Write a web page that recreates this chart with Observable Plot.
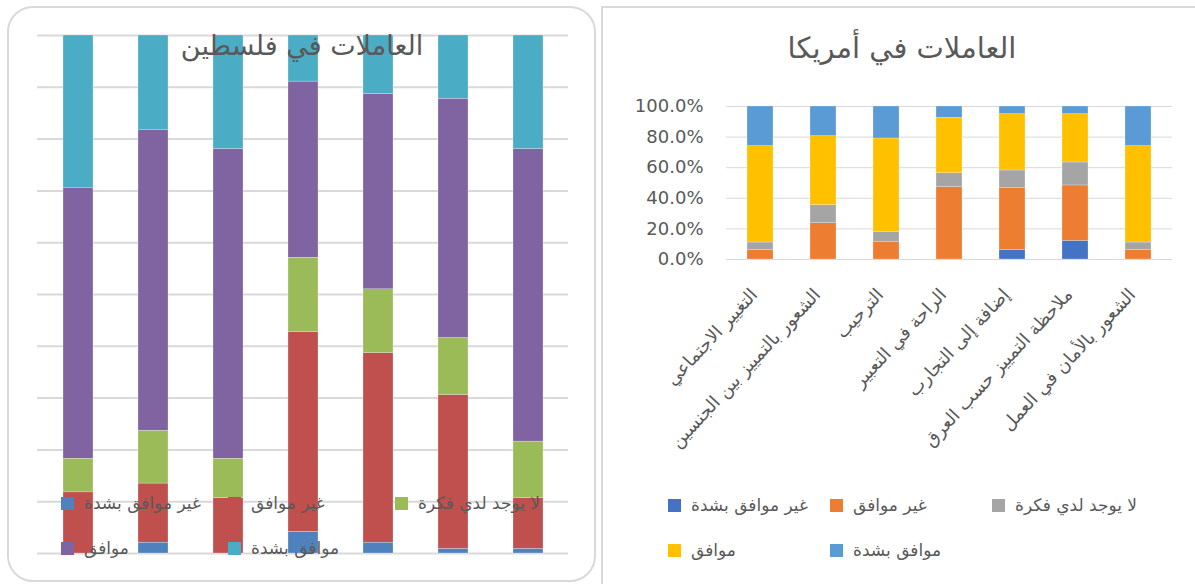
<!DOCTYPE html>
<html><head><meta charset="utf-8">
<script src="https://cdn.jsdelivr.net/npm/d3@7"></script>
<script src="https://cdn.jsdelivr.net/npm/@observablehq/plot@0.6"></script>
<style>
body{margin:0;background:#fff;}
#root{position:relative;width:1195px;height:584px;overflow:hidden;font-family:"DejaVu Sans",sans-serif;color:#595959;}
.box{position:absolute;box-sizing:border-box;}
#leftBox{left:7px;top:6px;width:589px;height:576px;border:2px solid #d9d9d9;border-radius:26px;}
#rightBox{left:601px;top:6px;width:620px;height:600px;border:2px solid #d9d9d9;}
.chart{position:absolute;top:0;}
.title{position:absolute;white-space:nowrap;transform:translateX(-50%);line-height:1;}
.leg{position:absolute;display:flex;align-items:center;white-space:nowrap;font-size:17px;line-height:1;}
.sw{width:13px;height:13px;margin-right:10px;flex:none;}
</style></head>
<body>
<div id="root">
  <div class="box" id="leftBox"></div>
  <div class="box" id="rightBox"></div>
</div>
<script>
// ---- shared categories and series ----
const categories = [
  "التغيير الاجتماعي",
  "الشعور بالتمييز بين الجنسين",
  "الترحيب",
  "الراحة في التعبير",
  "إضافة إلى التجارب",
  "ملاحظة التمييز حسب العرق",
  "الشعور بالأمان في العمل"
];
const series = ["غير موافق بشدة", "غير موافق", "لا يوجد لدي فكرة", "موافق", "موافق بشدة"];

// ---- Palestine (percent per category) ----
const psStronglyDisagree = [0, 2.1, 0, 4.2, 2.1, 0.9, 0.9];
const psDisagree         = [11.8, 11.4, 10.7, 38.5, 36.6, 29.7, 9.8];
const psNoIdea           = [6.5, 10.2, 7.6, 14.4, 12.3, 11.0, 10.9];
const psAgree            = [52.2, 58.0, 59.8, 34.0, 37.7, 46.2, 56.5];
const psStronglyAgree    = [29.5, 18.3, 21.9, 8.9, 11.3, 12.2, 21.9];
const psColors = ["#4F81BD", "#C0504D", "#9BBB59", "#8064A2", "#4BACC6"];
const psTitle = "العاملات في فلسطين";

// ---- America (percent per category) ----
const usStronglyDisagree = [0, 0, 0, 0, 6.3, 12.2, 0];
const usDisagree         = [6.3, 23.7, 11.3, 47.3, 40.3, 36.2, 6.3];
const usNoIdea           = [4.8, 11.8, 6.6, 9.1, 11.6, 15.0, 4.8];
const usAgree            = [63.0, 45.1, 61.2, 36.2, 36.8, 31.6, 63.0];
const usStronglyAgree    = [25.9, 19.4, 20.9, 7.4, 5.0, 5.0, 25.9];
const usColors = ["#4472C4", "#ED7D31", "#A5A5A5", "#FFC000", "#5B9BD5"];
const usTitle = "العاملات في أمريكا";
const usYTicks = [0, 0.2, 0.4, 0.6, 0.8, 1.0];

function table(arrays) {
  const rows = [];
  series.forEach((s, si) => categories.forEach((c, ci) => rows.push({cat: c, series: s, value: arrays[si][ci]})));
  return rows;
}
const psData = table([psStronglyDisagree, psDisagree, psNoIdea, psAgree, psStronglyAgree]);
const usData = table([usStronglyDisagree, usDisagree, usNoIdea, usAgree, usStronglyAgree]);

const root = document.getElementById("root");
const FONT = "DejaVu Sans, sans-serif";

// ---- Left chart ----
const left = Plot.plot({
  width: 600, height: 584,
  marginLeft: 37, marginRight: 32, marginTop: 35, marginBottom: 31,
  style: {background: "transparent", fontFamily: FONT},
  x: {domain: categories, paddingInner: 0.6, paddingOuter: 0.3, axis: null},
  y: {domain: [0, 1], axis: null},
  color: {domain: series, range: psColors},
  marks: [
    Plot.ruleY(d3.range(0, 11).map(i => i / 10), {stroke: "#d9d9d9", strokeWidth: 2}),
    Plot.barY(psData, Plot.stackY({offset: "normalize"}, {x: "cat", y: "value", z: "series", fill: "series", stroke: "#ffffff", strokeWidth: 0.4, strokeOpacity: 0.6}))
  ]
});
left.classList.add("chart");
left.style.left = "0px";
root.appendChild(left);

// ---- Right chart ----
const right = Plot.plot({
  width: 595, height: 584,
  marginLeft: 126, marginRight: 23, marginTop: 106, marginBottom: 325,
  style: {background: "transparent", fontFamily: FONT, overflow: "visible"},
  x: {domain: categories, paddingInner: 0.59, paddingOuter: 0.295, axis: null},
  y: {domain: [0, 1], axis: null},
  color: {domain: series, range: usColors},
  marks: [
    Plot.ruleY(usYTicks, {stroke: "#d9d9d9", strokeWidth: 1}),
    Plot.barY(usData, Plot.stackY({offset: "normalize"}, {x: "cat", y: "value", z: "series", fill: "series", stroke: "#ffffff", strokeWidth: 0.4, strokeOpacity: 0.6})),
    Plot.text(usYTicks, {y: d => d, frameAnchor: "left", dx: -23, textAnchor: "end", text: d => d3.format(".1%")(d), fill: "#595959", fontSize: 18}),
    Plot.text(categories, {x: d => d, frameAnchor: "bottom", dy: 36, dx: -2, rotate: -47, textAnchor: "end", text: d => d, fill: "#595959", fontSize: 18})
  ]
});
right.classList.add("chart");
right.style.left = "600px";
root.appendChild(right);

// ---- Titles ----
function addTitle(text, cx, top, size) {
  const t = document.createElement("div");
  t.className = "title";
  t.textContent = text;
  t.style.left = cx + "px";
  t.style.top = top + "px";
  t.style.fontSize = size + "px";
  root.appendChild(t);
}
addTitle(psTitle, 302, 32, 27);
addTitle(usTitle, 902, 34, 29);

// ---- Legends ----
function addLegend(colors, x0, step, y0, rowGap) {
  series.forEach((s, i) => {
    const row = Math.floor(i / 3), col = i % 3;
    const item = document.createElement("div");
    item.className = "leg";
    item.style.left = (x0 + col * step) + "px";
    item.style.top = (y0 + row * rowGap - 2) + "px";
    const sw = document.createElement("span");
    sw.className = "sw";
    sw.style.background = colors[i];
    const lab = document.createElement("span");
    lab.textContent = s;
    item.appendChild(sw);
    item.appendChild(lab);
    root.appendChild(item);
  });
}
addLegend(psColors, 61, 167, 497, 45);
addLegend(usColors, 668, 162, 499, 45);
</script>
</body></html>
